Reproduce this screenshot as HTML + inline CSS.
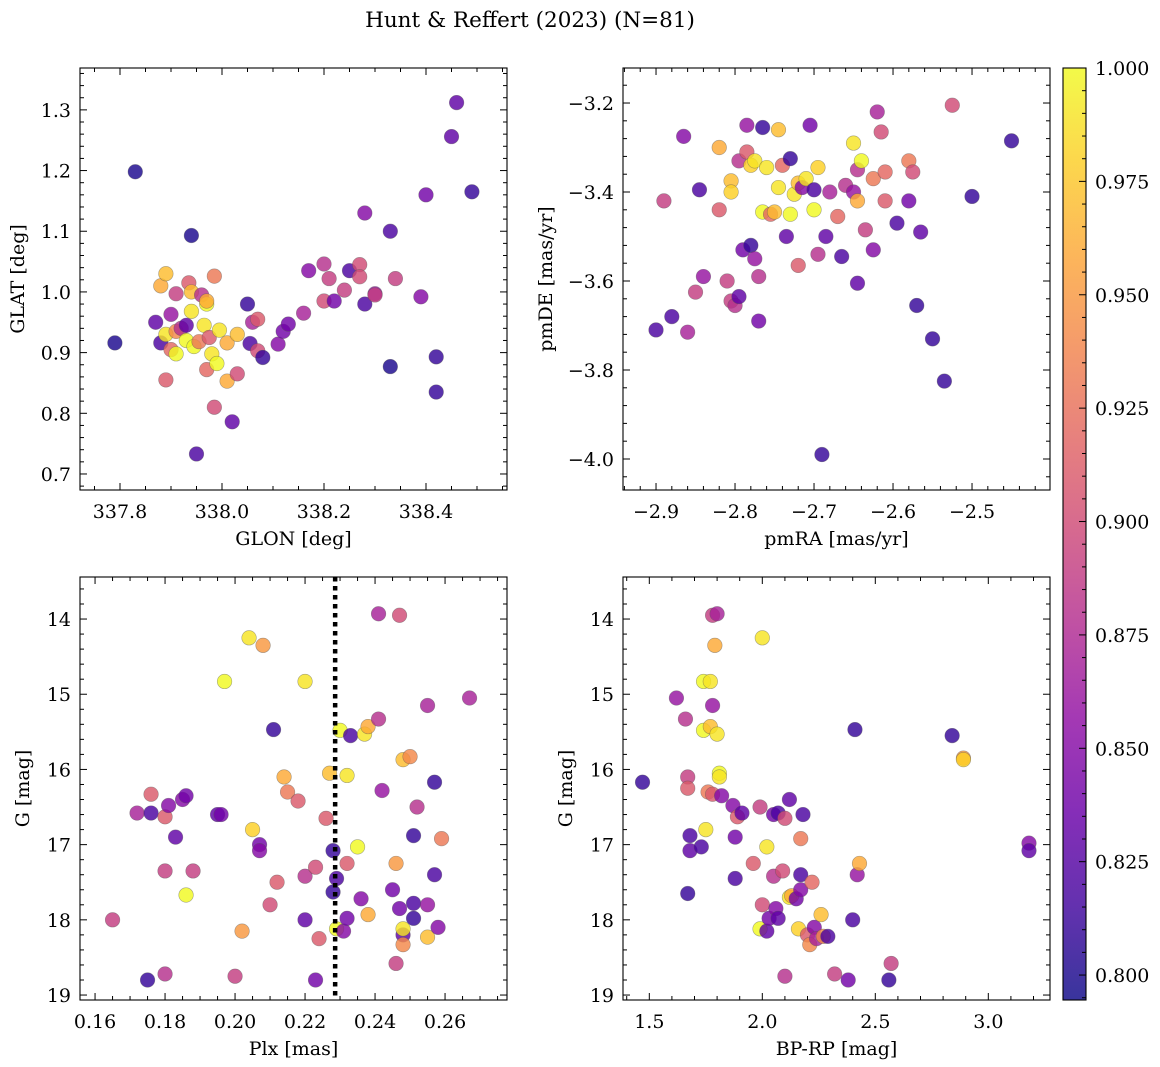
<!DOCTYPE html>
<html><head><meta charset="utf-8"><style>
body{margin:0;background:#fff}
svg{display:block;font-family:"DejaVu Serif","Liberation Serif",serif}
</style></head><body>
<svg id="fig" width="1160" height="1067" viewBox="0 0 1160 1067">
<defs><linearGradient id="plasma" x1="0" y1="1" x2="0" y2="0"></linearGradient></defs>
<text x="530" y="27" font-size="21.5" text-anchor="middle">Hunt &amp; Reffert (2023) (N=81)</text>
</svg>
<script>
// ---- data: panel 1 (GLON vs GLAT)
const p1Glon=[337.79,337.83,337.87,337.88,337.88,337.89,337.89,337.89,337.90,337.90,337.91,337.91,337.91,337.92,337.93,337.93,337.935,337.94,337.94,337.94,337.945,337.95,337.955,337.96,337.965,337.97,337.97,337.97,337.975,337.98,337.985,337.985,337.99,337.995,338.01,338.01,338.02,338.03,338.03,338.05,338.055,338.06,338.07,338.07,338.08,338.11,338.12,338.13,338.16,338.17,338.20,338.20,338.21,338.22,338.24,338.25,338.27,338.27,338.28,338.28,338.30,338.30,338.33,338.33,338.34,338.39,338.40,338.42,338.42,338.45,338.46,338.49];
const p1Glat=[0.916,1.198,0.95,0.916,1.01,1.03,0.93,0.855,0.963,0.905,0.997,0.935,0.898,0.94,0.945,0.92,1.015,1.093,1.0,0.968,0.91,0.733,0.918,0.995,0.945,0.98,0.872,0.985,0.925,0.898,1.026,0.81,0.882,0.937,0.853,0.916,0.786,0.93,0.865,0.98,0.915,0.95,0.955,0.903,0.892,0.914,0.935,0.947,0.965,1.035,1.046,0.985,1.022,0.985,1.003,1.035,1.045,1.025,1.13,0.98,0.997,0.995,1.1,0.877,1.022,0.992,1.16,0.893,0.835,1.256,1.312,1.165];
const p1Prob=[0.80,0.80,0.83,0.82,0.96,0.97,0.99,0.91,0.86,0.92,0.89,0.94,1.0,0.88,0.83,1.0,0.91,0.80,0.97,0.99,1.0,0.82,0.93,0.88,0.99,1.0,0.92,0.96,0.91,0.99,0.93,0.90,1.0,0.99,0.96,0.96,0.83,0.97,0.90,0.81,0.82,0.87,0.91,0.90,0.81,0.85,0.84,0.84,0.87,0.85,0.88,0.90,0.89,0.84,0.89,0.82,0.90,0.90,0.85,0.82,0.86,0.89,0.82,0.80,0.89,0.85,0.84,0.81,0.81,0.83,0.83,0.81];
// ---- data: panel 2 (pmRA vs pmDE)
const p2PmRA=[-2.90,-2.89,-2.88,-2.865,-2.86,-2.85,-2.845,-2.84,-2.82,-2.82,-2.81,-2.805,-2.805,-2.805,-2.80,-2.795,-2.795,-2.79,-2.785,-2.785,-2.78,-2.78,-2.775,-2.775,-2.77,-2.77,-2.765,-2.765,-2.76,-2.755,-2.75,-2.745,-2.745,-2.74,-2.735,-2.73,-2.73,-2.725,-2.72,-2.72,-2.715,-2.71,-2.705,-2.70,-2.70,-2.695,-2.695,-2.69,-2.685,-2.68,-2.67,-2.665,-2.66,-2.65,-2.65,-2.645,-2.645,-2.645,-2.64,-2.635,-2.625,-2.625,-2.62,-2.615,-2.61,-2.61,-2.595,-2.58,-2.58,-2.575,-2.57,-2.565,-2.55,-2.535,-2.525,-2.50,-2.45];
const p2PmDE=[-3.71,-3.42,-3.68,-3.275,-3.715,-3.625,-3.395,-3.59,-3.30,-3.44,-3.60,-3.375,-3.40,-3.645,-3.655,-3.33,-3.635,-3.53,-3.25,-3.31,-3.52,-3.34,-3.33,-3.55,-3.69,-3.59,-3.255,-3.445,-3.345,-3.45,-3.445,-3.26,-3.39,-3.34,-3.50,-3.325,-3.45,-3.405,-3.565,-3.38,-3.39,-3.37,-3.25,-3.44,-3.395,-3.345,-3.54,-3.99,-3.50,-3.40,-3.455,-3.545,-3.385,-3.40,-3.29,-3.42,-3.605,-3.35,-3.33,-3.485,-3.37,-3.53,-3.22,-3.265,-3.355,-3.42,-3.47,-3.33,-3.42,-3.355,-3.655,-3.49,-3.73,-3.825,-3.205,-3.41,-3.285];
const p2Prob=[0.82,0.89,0.82,0.85,0.87,0.89,0.82,0.86,0.96,0.91,0.89,0.97,0.98,0.89,0.88,0.88,0.83,0.84,0.86,0.91,0.81,0.98,0.99,0.86,0.84,0.88,0.81,1.0,0.99,0.92,0.97,0.97,0.99,0.92,0.83,0.81,1.0,0.99,0.91,0.97,0.85,0.99,0.84,1.0,0.82,0.98,0.88,0.81,0.83,0.87,0.92,0.82,0.88,0.86,0.99,0.96,0.83,0.88,1.0,0.89,0.93,0.85,0.87,0.90,0.92,0.91,0.82,0.93,0.84,0.90,0.81,0.83,0.81,0.81,0.90,0.81,0.81];
// ---- data: panel 3 (Plx vs G)
const p3Plx=[0.165,0.172,0.175,0.176,0.176,0.18,0.18,0.18,0.181,0.183,0.185,0.186,0.186,0.188,0.195,0.196,0.197,0.20,0.202,0.204,0.205,0.207,0.207,0.208,0.21,0.211,0.212,0.214,0.215,0.218,0.22,0.22,0.22,0.223,0.223,0.224,0.226,0.227,0.228,0.228,0.229,0.229,0.23,0.231,0.232,0.232,0.232,0.233,0.235,0.236,0.237,0.238,0.238,0.241,0.241,0.242,0.245,0.246,0.246,0.247,0.247,0.248,0.248,0.248,0.248,0.25,0.251,0.251,0.251,0.252,0.255,0.255,0.255,0.257,0.257,0.258,0.259,0.267];
const p3G=[18.0,16.58,18.8,16.33,16.58,16.63,17.35,18.72,16.48,16.9,16.4,16.35,17.67,17.35,16.6,16.6,14.83,18.75,18.15,14.25,16.8,17.0,17.08,14.35,17.8,15.47,17.5,16.1,16.3,16.42,14.83,17.42,18.0,17.3,18.8,18.25,16.65,16.05,17.08,17.63,17.45,18.12,15.48,18.15,16.08,17.25,17.98,15.55,17.03,17.72,15.53,15.43,17.93,13.93,15.33,16.28,17.6,17.25,18.58,17.85,13.95,18.2,18.33,15.87,18.12,15.83,16.88,17.78,17.98,16.5,15.15,17.8,18.23,16.17,17.4,18.1,16.92,15.05];
const p3Prob=[0.89,0.87,0.81,0.91,0.82,0.91,0.89,0.88,0.85,0.83,0.85,0.84,1.0,0.89,0.83,0.84,1.0,0.89,0.95,0.99,0.98,0.84,0.85,0.95,0.90,0.81,0.91,0.96,0.93,0.91,0.99,0.88,0.83,0.90,0.84,0.91,0.91,0.97,0.81,0.81,0.82,1.0,1.0,0.85,0.99,0.91,0.84,0.82,1.0,0.85,0.99,0.96,0.96,0.87,0.88,0.86,0.84,0.95,0.89,0.84,0.90,0.83,0.94,0.97,0.99,0.94,0.81,0.82,0.81,0.88,0.87,0.86,0.97,0.81,0.82,0.85,0.93,0.87];
const plxLine=0.2286;
// ---- data: panel 4 (BP-RP vs G)
const p4Color=[1.47,1.62,1.66,1.67,1.67,1.67,1.68,1.68,1.73,1.74,1.74,1.75,1.76,1.77,1.77,1.78,1.78,1.78,1.79,1.80,1.80,1.81,1.81,1.82,1.87,1.88,1.88,1.89,1.91,1.96,1.99,1.99,2.0,2.0,2.02,2.02,2.03,2.05,2.05,2.06,2.07,2.07,2.09,2.10,2.10,2.12,2.12,2.13,2.15,2.16,2.17,2.17,2.17,2.18,2.20,2.21,2.22,2.23,2.24,2.26,2.27,2.29,2.32,2.38,2.40,2.41,2.42,2.43,2.56,2.57,2.84,2.89,2.89,3.18,3.18];
const p4G=[16.17,15.05,15.33,16.1,16.25,17.65,16.88,17.08,17.03,15.48,14.83,16.8,16.3,14.83,15.43,16.33,13.95,15.15,14.35,13.93,15.53,16.05,16.1,16.35,16.48,17.45,16.9,16.63,16.58,17.25,16.5,18.12,14.25,17.8,17.03,18.15,17.98,17.42,16.6,17.85,16.58,17.98,17.35,18.75,16.65,16.4,17.7,17.68,17.72,18.12,17.4,17.6,16.92,16.6,18.2,18.33,17.5,18.1,18.25,17.93,18.22,18.22,18.72,18.8,18.0,15.47,17.4,17.25,18.8,18.58,15.55,15.85,15.87,16.98,17.08];
const p4Prob=[0.81,0.86,0.88,0.89,0.91,0.81,0.82,0.83,0.82,1.0,1.0,0.99,0.93,0.99,0.97,0.91,0.89,0.86,0.96,0.87,0.99,1.0,0.99,0.85,0.85,0.82,0.84,0.91,0.83,0.91,0.89,1.0,0.99,0.90,0.99,0.83,0.84,0.88,0.84,0.85,0.82,0.83,0.90,0.88,0.90,0.83,0.99,0.96,0.84,0.98,0.82,0.85,0.93,0.82,0.91,0.94,0.92,0.85,0.87,0.97,0.94,0.82,0.89,0.84,0.82,0.81,0.86,0.96,0.81,0.89,0.81,0.95,0.98,0.85,0.83];
// ---- tick labels
const p1XTicks=[337.8,338.0,338.2,338.4];
const p1YTicks=[0.7,0.8,0.9,1.0,1.1,1.2,1.3];
const p2XTicks=[-2.9,-2.8,-2.7,-2.6,-2.5];
const p2YTicks=[-4.0,-3.8,-3.6,-3.4,-3.2];
const p3XTicks=[0.16,0.18,0.20,0.22,0.24,0.26];
const gTicks=[14,15,16,17,18,19];
const p4XTicks=[1.5,2.0,2.5,3.0];
const cbTicks=[0.800,0.825,0.850,0.875,0.900,0.925,0.950,0.975,1.000];

const NS='http://www.w3.org/2000/svg';
const svg=document.getElementById('fig');
const FS=19;
const cmin=0.7945,cmax=1.0;
const stops=['#0d0887','#41049d','#6a00a8','#8f0da4','#b12a90','#cc4778','#e16462','#f2844b','#fca636','#fcce25','#f0f921'];
function hex(h){return [1,3,5].map(i=>parseInt(h.substr(i,2),16));}
function cmap(v){let t=(v-cmin)/(cmax-cmin);t=Math.max(0,Math.min(1,t));const f=t*10,i=Math.min(9,Math.floor(f)),r=f-i;const a=hex(stops[i]),b=hex(stops[i+1]);return 'rgb('+a.map((c,k)=>Math.round(c+(b[k]-c)*r)).join(',')+')';}
function mk(tag,attrs,parent){const e=document.createElementNS(NS,tag);for(const k in attrs)e.setAttribute(k,attrs[k]);(parent||svg).appendChild(e);return e;}
function fmt(v,d){return (v<0?'\u2212':'')+Math.abs(v).toFixed(d);}

function panel(o){
  const g=mk('g',{});
  
  
  const sx=v=>o.x0+(v-o.xmin)/(o.xmax-o.xmin)*(o.x1-o.x0);
  const sy=v=>o.inv? o.y0+(v-o.ymin)/(o.ymax-o.ymin)*(o.y1-o.y0) : o.y1-(v-o.ymin)/(o.ymax-o.ymin)*(o.y1-o.y0);
  const pg=mk('g',{},g);
  
  
  for(let i=0;i<o.xs.length;i++){
    const c=mk('circle',{cx:sx(o.xs[i]),cy:sy(o.ys[i]),r:7.3,fill:cmap(o.cs[i]),'fill-opacity':0.82,stroke:'#555','stroke-opacity':0.5,'stroke-width':0.6},pg);
    
    
  }
  if(o.vline!==undefined){
    const l=mk('line',{x1:sx(o.vline),x2:sx(o.vline),y1:o.y0,y2:o.y1,stroke:'#000','stroke-width':4.5,'stroke-dasharray':'4.5 4.5'},g);
    
    
  }
  const tk=mk('g',{stroke:'#000','stroke-width':1},g);
  
  
  const eps=1e-9;
  for(let v=Math.ceil(o.xmin/o.xminor-eps)*o.xminor;v<=o.xmax+eps;v+=o.xminor){
    const isMaj=Math.abs(v/o.xmajor-Math.round(v/o.xmajor))<1e-6;const L=isMaj?7:4;const x=sx(v);
    mk('line',{x1:x,x2:x,y1:o.y1,y2:o.y1-L},tk);mk('line',{x1:x,x2:x,y1:o.y0,y2:o.y0+L},tk);
  }
  for(let v=Math.ceil(o.ymin/o.yminor-eps)*o.yminor;v<=o.ymax+eps;v+=o.yminor){
    const isMaj=Math.abs(v/o.ymajor-Math.round(v/o.ymajor))<1e-6;const L=isMaj?7:4;const y=sy(v);
    mk('line',{x1:o.x0,x2:o.x0+L,y1:y,y2:y},tk);mk('line',{x1:o.x1,x2:o.x1-L,y1:y,y2:y},tk);
  }
  const fr=mk('rect',{x:o.x0,y:o.y0,width:o.x1-o.x0,height:o.y1-o.y0,fill:'none',stroke:'#000','stroke-width':1.1},g);
  
  
  o.xt.forEach(v=>{const t=mk('text',{x:sx(v),y:o.y1+28,'font-size':FS,'text-anchor':'middle'},g);t.textContent=fmt(v,o.xd);
    
    });
  o.yt.forEach(v=>{const t=mk('text',{x:o.x0-9,y:sy(v)+7,'font-size':FS,'text-anchor':'end'},g);t.textContent=fmt(v,o.yd);
    
    });
  const xl=mk('text',{x:(o.x0+o.x1)/2,y:o.y1+55,'font-size':FS,'text-anchor':'middle'},g);xl.textContent=o.xlabel;
  
  
  const yc=(o.y0+o.y1)/2;
  const yl=mk('text',{x:o.ylx,y:yc,'font-size':FS,'text-anchor':'middle',transform:'rotate(-90 '+o.ylx+' '+yc+')'},g);yl.textContent=o.ylabel;
  
  
}

panel({name:'glon-glat-panel',x0:80,x1:507,y0:68,y1:490,xmin:337.7216,xmax:338.5588,ymin:0.6736,ymax:1.369,xs:p1Glon,ys:p1Glat,cs:p1Prob,xt:p1XTicks,yt:p1YTicks,xd:1,yd:1,xmajor:0.2,xminor:0.05,ymajor:0.1,yminor:0.02,xlabel:'GLON [deg]',ylabel:'GLAT [deg]',ylx:24});
panel({name:'pm-panel',x0:623,x1:1050,y0:68,y1:490,xmin:-2.9418,xmax:-2.4013,ymin:-4.0697,ymax:-3.1213,xs:p2PmRA,ys:p2PmDE,cs:p2Prob,xt:p2XTicks,yt:p2YTicks,xd:1,yd:1,xmajor:0.1,xminor:0.02,ymajor:0.2,yminor:0.04,xlabel:'pmRA [mas/yr]',ylabel:'pmDE [mas/yr]',ylx:552});
panel({name:'plx-g-panel',x0:80,x1:507,y0:577,y1:1000,xmin:0.1557,xmax:0.2777,ymin:13.441,ymax:19.066,inv:true,xs:p3Plx,ys:p3G,cs:p3Prob,xt:p3XTicks,yt:gTicks,xd:2,yd:0,xmajor:0.02,xminor:0.005,ymajor:1,yminor:0.2,xlabel:'Plx [mas]',ylabel:'G [mag]',ylx:29,vline:plxLine});
panel({name:'cmd-panel',x0:623,x1:1050,y0:577,y1:1000,xmin:1.3836,xmax:3.273,ymin:13.441,ymax:19.066,inv:true,xs:p4Color,ys:p4G,cs:p4Prob,xt:p4XTicks,yt:gTicks,xd:1,yd:0,xmajor:0.5,xminor:0.1,ymajor:1,yminor:0.2,xlabel:'BP-RP [mag]',ylabel:'G [mag]',ylx:572});

const grad=document.getElementById('plasma');
stops.forEach((s,i)=>mk('stop',{offset:(i/10),'stop-color':s},grad));
const cb=mk('g',{});


const cy0=68,cy1=1000,cx0=1063,cx1=1086;
mk('rect',{x:cx0,y:cy0,width:cx1-cx0,height:cy1-cy0,fill:'url(#plasma)','fill-opacity':0.82},cb);
mk('rect',{x:cx0,y:cy0,width:cx1-cx0,height:cy1-cy0,fill:'none',stroke:'#000','stroke-width':1.1},cb);
const cyv=v=>cy1-(v-cmin)/(cmax-cmin)*(cy1-cy0);
for(let k=0;k*0.005+0.795<=1.0001;k++){const v=0.795+k*0.005;const maj=Math.abs(v/0.025-Math.round(v/0.025))<1e-6;const y=cyv(v);
  mk('line',{x1:cx1,x2:cx1-(maj?7:4),y1:y,y2:y,stroke:'#000','stroke-width':1},cb);}
cbTicks.forEach(v=>{const t=mk('text',{x:1095,y:cyv(v)+7,'font-size':FS},cb);t.textContent=v.toFixed(3);
  
  });
</script>
</body></html>
